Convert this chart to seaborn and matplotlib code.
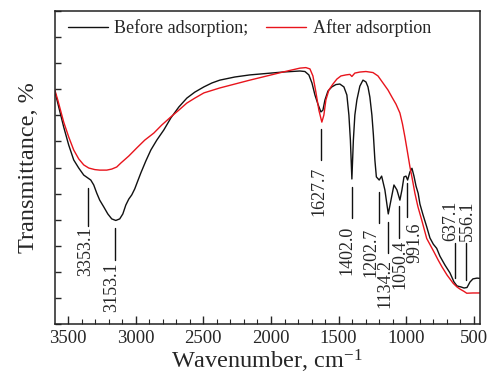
import matplotlib
matplotlib.use("Agg")
import matplotlib.pyplot as plt
import seaborn as sns
import numpy as np
import pandas as pd

# ---------------- data ----------------
wn_before = [3600, 3576, 3532, 3495, 3458, 3421, 3384, 3354, 3332, 3310, 3288, 3266,
             3236, 3206, 3177, 3147, 3118, 3095, 3073, 3051, 3029, 3007, 2985, 2962,
             2925, 2888, 2844, 2792, 2740, 2681, 2622, 2563, 2496, 2437, 2378, 2267,
             2156, 1912, 1786, 1749, 1720, 1697, 1675, 1653, 1631, 1616, 1601, 1579,
             1550, 1520, 1491, 1461, 1439, 1424, 1413, 1402, 1391, 1380, 1365, 1343,
             1320, 1298, 1283, 1269, 1254, 1243, 1232, 1221, 1200, 1182, 1158, 1133,
             1113, 1091, 1069, 1047, 1032, 1017, 1002, 990, 973, 958, 943, 928, 912,
             899, 877, 849, 825, 800, 775, 751, 714, 677, 647, 625, 595, 573, 551, 529,
             507, 477, 440]
t_before = [89.7, 84.7, 75.5, 68.6, 62.9, 59.8, 57.1, 56.0, 55.2, 53.3, 50.2, 47.5,
            44.9, 42.2, 40.3, 39.7, 40.3, 42.2, 45.6, 47.9, 49.5, 51.8, 54.8, 57.9,
            62.5, 66.7, 70.5, 74.4, 79.0, 83.2, 86.6, 88.9, 90.9, 92.4, 93.5, 94.7,
            95.5, 96.6, 97.0, 96.8, 95.5, 92.4, 87.8, 84.3, 81.3, 82.0, 85.9, 89.3,
            90.9, 91.8, 92.0, 90.9, 87.8, 80.1, 70.5, 55.6, 70.5, 80.1, 85.9, 91.2,
            93.5, 92.8, 90.9, 87.0, 80.1, 72.5, 62.9, 56.4, 55.2, 56.7, 51.4, 42.2,
            47.5, 53.3, 51.4, 47.5, 51.4, 56.4, 56.7, 55.2, 58.3, 59.7, 56.7, 52.9, 50.1,
            46.0, 42.0, 37.3, 33.0, 30.6, 29.0, 26.0, 22.6, 19.6, 16.1, 14.6, 14.2, 13.8,
            14.0, 16.1, 17.3, 17.6, 17.4]

wn_after = [3600, 3576, 3532, 3495, 3458, 3421, 3384, 3347, 3302, 3266, 3214, 3177,
            3140, 3110, 3051, 2992, 2933, 2866, 2807, 2740, 2681, 2622, 2563, 2496,
            2378, 2156, 1912, 1786, 1742, 1712, 1690, 1668, 1646, 1624, 1609, 1594,
            1572, 1542, 1513, 1483, 1446, 1417, 1402, 1380, 1343, 1298, 1246, 1209,
            1172, 1135, 1106, 1076, 1047, 1028, 1010, 991, 973, 955, 936, 914, 886,
            849, 825, 795, 764, 736, 699, 653, 625, 603, 573, 553, 507, 454]
t_after = [90.1, 85.9, 77.4, 71.7, 66.7, 63.3, 61.0, 59.8, 59.2, 59.0, 59.0, 59.4,
           60.2, 61.7, 64.4, 67.5, 70.5, 73.2, 76.3, 79.4, 82.0, 84.7, 86.6, 88.6,
           90.5, 93.5, 96.6, 98.1, 98.3, 97.8, 95.1, 88.9, 82.0, 77.4, 80.1, 85.9,
           89.7, 92.0, 93.9, 95.1, 95.5, 95.7, 94.9, 96.2, 96.6, 96.8, 96.4, 95.1,
           92.4, 89.7, 87.0, 84.3, 80.9, 76.7, 71.7, 65.9, 60.3, 55.5, 50.1, 45.0, 39.9,
           32.8, 30.5, 27.6, 24.5, 21.9, 18.8, 15.6, 14.2, 13.4, 12.5, 11.8, 11.9, 11.9]

series_names = ["Before adsorption;", "After adsorption"]
peak_labels = ["3353.1", "3153.1", "1627.7", "1402.0", "1202.7",
               "1134.2", "1050.4", "991.6", "637.1", "556.1"]
x_ticks = [3500, 3000, 2500, 2000, 1500, 1000, 500]

# ---------------- layout (annotation placement) ----------------
# (line top, line bottom, text anchor y, text side, x offset in points)
ann_layout = [
    (52.1, 37.6, 37.2, "below", -2.0),
    (36.8, 24.5, 23.8, "below", -2.5),
    (74.8, 62.9, 60.2, "below", -2.0),
    (52.5, 40.6, 37.6, "below", -3.5),
    (50.6, 38.7, 36.8, "below", -6.0),
    (39.1, 27.2, 24.9, "below", -2.5),
    (45.2, 33.0, 32.2, "below", 0.0),
    (54.1, 41.0, 39.1, "below", 5.5),
    (31.1, 17.6, 32.0, "above", -3.5),
    (31.1, 16.9, 32.0, "above", 0.5),
]

# ---------------- style ----------------
sns.set_style("ticks")
plt.rcParams["font.family"] = ["Liberation Serif", "DejaVu Serif"]
plt.rcParams["mathtext.fontset"] = "custom"
plt.rcParams["mathtext.rm"] = "Liberation Serif"
plt.rcParams["mathtext.it"] = "Liberation Serif:italic"

df_b = pd.DataFrame({"wn": wn_before, "T": t_before})
df_a = pd.DataFrame({"wn": wn_after, "T": t_after})

fig = plt.figure(figsize=(4.88, 3.82), dpi=100)
ax = fig.add_axes([0.1117, 0.1518, 0.9836 - 0.1117, 0.9712 - 0.1518])

sns.lineplot(data=df_b, x="wn", y="T", ax=ax, color="#111111", lw=1.0,
             label=series_names[0])
sns.lineplot(data=df_a, x="wn", y="T", ax=ax, color="#e8141c", lw=1.0,
             label=series_names[1])

ax.set_xlim(3600, 455)
ax.set_ylim(0, 120)
ax.set_xticks(x_ticks)
ax.set_xticklabels([str(t) for t in x_ticks], fontsize=13.5)
ax.set_xticks(np.arange(600, 3600, 100), minor=True)
ax.set_yticks(np.arange(0, 121, 10))
ax.set_yticklabels([])
ax.tick_params(axis="x", which="major", direction="in", length=6, width=1, pad=4)
ax.tick_params(axis="x", which="minor", direction="in", length=3.5, width=0.8)
ax.tick_params(axis="y", which="major", direction="in", length=4, width=1)

for s in ax.spines.values():
    s.set_linewidth(1.1)
    s.set_color("#222222")

ax.set_xlabel("Wavenumber, cm$^{-1}$", fontsize=17.5, labelpad=1)
ax.set_ylabel("Transmittance, %", fontsize=17.5, labelpad=8)

for lab, (ytop, ybot, ytxt, side, dx) in zip(peak_labels, ann_layout):
    xv = float(lab)
    ax.plot([xv, xv], [ytop, ybot], color="#111111", lw=1.0)
    va = "top" if side == "below" else "bottom"
    ax.annotate(lab, xy=(xv, ytxt), xytext=(dx, 0), textcoords="offset points",
                rotation=90, ha="center", va=va, fontsize=13)

leg = ax.legend(loc="center left", bbox_to_anchor=(0.032, 0.946), ncol=2,
                frameon=False, fontsize=13, handlelength=2.2, handletextpad=0.35,
                columnspacing=1.0, borderaxespad=0, borderpad=0)

fig.savefig("out.png", dpi=100)
